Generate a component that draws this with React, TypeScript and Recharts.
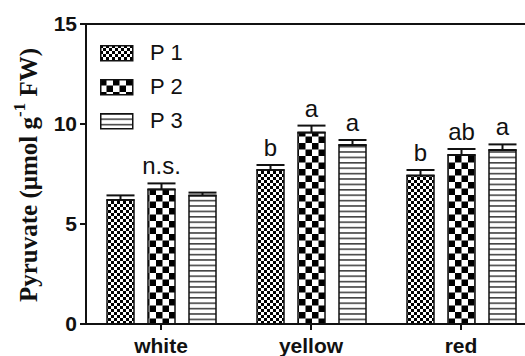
import React from "react";
import { BarChart, Bar, XAxis, YAxis, ErrorBar, LabelList, ReferenceLine } from "recharts";

const categories = ["white", "yellow", "red"];
const seriesNames = ["P 1", "P 2", "P 3"];
const p1 = [6.2, 7.7, 7.42];
const p2 = [6.73, 9.57, 8.45];
const p3 = [6.42, 8.95, 8.7];
const p1Err = [0.23, 0.25, 0.28];
const p2Err = [0.3, 0.35, 0.3];
const p3Err = [0.15, 0.25, 0.28];
const p1Sig = ["", "b", "b"];
const p2Sig = ["n.s.", "a", "ab"];
const p3Sig = ["", "a", "a"];
const yTicks = [0, 5, 10, 15];

const values = [p1, p2, p3];
const errors = [p1Err, p2Err, p3Err];

const data = categories.map((name, i) => ({
  name,
  p1: p1[i],
  p2: p2[i],
  p3: p3[i],
  // upward-only error bars: [lower, upper]
  p1e: [0, p1Err[i]],
  p2e: [0, p2Err[i]],
  p3e: [0, p3Err[i]],
  p1s: p1Sig[i],
  p2s: p2Sig[i],
  p3s: p3Sig[i],
}));

const INK = "#111";
const SANS = "'Liberation Sans', Arial, sans-serif";
const SERIF = "'Liberation Serif', 'Times New Roman', serif";

const Patterns = ({ prefix }: { prefix: string }) => (
  <defs>
    <pattern id={`${prefix}1`} width="6" height="6" patternUnits="userSpaceOnUse">
      <rect width="6" height="6" fill="#fff" />
      <rect width="3" height="3" fill="#000" />
      <rect x="3" y="3" width="3" height="3" fill="#000" />
    </pattern>
    <pattern id={`${prefix}2`} width="13" height="13" patternUnits="userSpaceOnUse">
      <rect width="13" height="13" fill="#fff" />
      <rect width="6.5" height="6.5" fill="#000" />
      <rect x="6.5" y="6.5" width="6.5" height="6.5" fill="#000" />
    </pattern>
    <pattern id={`${prefix}3`} width="10" height="5.4" patternUnits="userSpaceOnUse">
      <rect width="10" height="5.4" fill="#fff" />
      <rect y="0" width="10" height="1.6" fill="#444" />
    </pattern>
  </defs>
);

const makeSigLabel = (series: number) => (props: any) => {
  const { x, y, width, height, value, index } = props;
  if (!value) return null;
  const v = values[series][index];
  const pxPerUnit = height / v;
  const top = y - errors[series][index] * pxPerUnit;
  return (
    <text
      x={x + width / 2}
      y={top - 9}
      textAnchor="middle"
      fontFamily={SANS}
      fontSize={24}
      fill={INK}
    >
      {value}
    </text>
  );
};

const YLabel = () => (
  <text
    x={0}
    y={0}
    transform="translate(28,175) rotate(-90)"
    textAnchor="middle"
    dominantBaseline="central"
    fontFamily={SERIF}
    fontWeight="bold"
    fontSize={25}
    fill={INK}
  >
    <tspan>Pyruvate (μmol g</tspan>
    <tspan dy={-9} fontSize={17}>-1</tspan>
    <tspan dy={9}> FW)</tspan>
  </text>
);

const App = () => {
  const keys = ["p1", "p2", "p3"];
  return (
    <div style={{ position: "fixed", left: 0, top: 0, width: 525, height: 356, overflow: "hidden", background: "#fff" }}>
      <BarChart
        width={540}
        height={356}
        data={data}
        margin={{ top: 24, right: 4, bottom: 0, left: 0 }}
        barSize={27}
        barGap={14}
      >
        <Patterns prefix="pat" />
        <XAxis
          dataKey="name"
          height={32}
          stroke={INK}
          strokeWidth={2}
          tickSize={6}
          tickMargin={8}
          tick={{ fill: INK, fontFamily: SANS, fontWeight: "bold", fontSize: 21 }}
        />
        <YAxis
          width={86}
          domain={[0, 15]}
          ticks={yTicks}
          stroke={INK}
          strokeWidth={2}
          tickSize={6}
          tickMargin={3}
          tick={{ fill: INK, fontFamily: SANS, fontWeight: "bold", fontSize: 21 }}
          label={<YLabel />}
        />
        <ReferenceLine y={15} stroke={INK} strokeWidth={2} />
        {keys.map((k, i) => (
          <Bar
            key={k}
            dataKey={k}
            fill={`url(#pat${i + 1})`}
            stroke={INK}
            strokeWidth={1.5}
            isAnimationActive={false}
          >
            <ErrorBar dataKey={`${k}e`} width={14} stroke={INK} strokeWidth={2} direction="y" />
            <LabelList dataKey={`${k}s`} content={makeSigLabel(i)} />
          </Bar>
        ))}
      </BarChart>
      <div style={{ position: "absolute", left: 100, top: 36 }}>
        {seriesNames.map((s, i) => (
          <div key={s} style={{ display: "flex", alignItems: "center", height: 34 }}>
            <svg width={34} height={17} style={{ display: "block" }}>
              {i === 0 && <Patterns prefix="lg" />}
              <rect x={0.75} y={0.75} width={32} height={15} fill={`url(#lg${i + 1})`} stroke={INK} strokeWidth={1.5} />
            </svg>
            <span style={{ marginLeft: 16, fontFamily: SANS, fontSize: 22, color: INK, lineHeight: "22px" }}>{s}</span>
          </div>
        ))}
      </div>
    </div>
  );
};

export default App;
